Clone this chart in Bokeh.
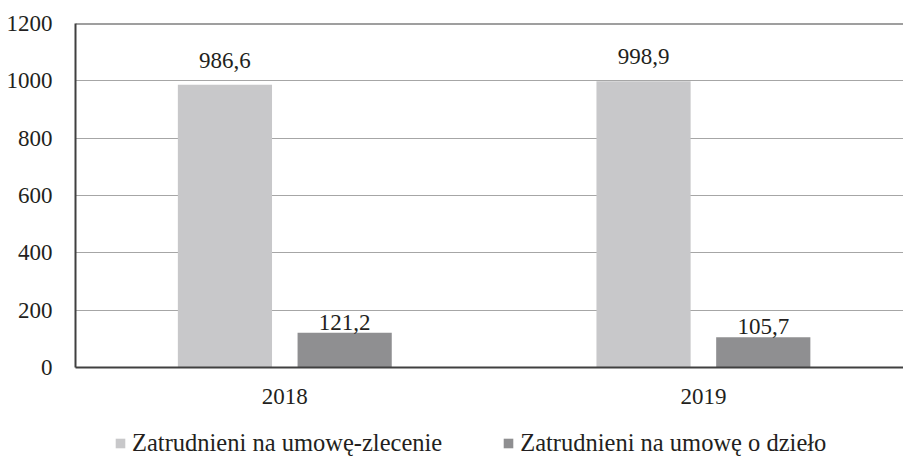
from bokeh.plotting import figure
from bokeh.layouts import column
from bokeh.models import (ColumnDataSource, Range1d, FixedTicker, LabelSet, Legend,
                          LegendItem, Span)
from bokeh.embed import file_html
from bokeh.resources import INLINE

# ---- data ----
years = ["2018", "2019"]
zlecenie = [986.6, 998.9]
dzielo = [121.2, 105.7]
series_names = ["Zatrudnieni na umowę-zlecenie", "Zatrudnieni na umowę o dzieło"]
y_ticks = [0, 200, 400, 600, 800, 1000, 1200]

# ---- style ----
FONT = "Liberation Serif"
FS = "23px"
FS_LEG = "24.5px"
TXT = "#231f20"
C_LIGHT = "#c8c8ca"
C_DARK = "#8f8f91"
BAR_W = 0.225
OFF = 0.143

xpos = list(range(len(years)))
src = ColumnDataSource(dict(
    x1=[i - OFF for i in xpos], x2=[i + OFF for i in xpos],
    v1=zlecenie, v2=dzielo,
    t1=[f"{v:.1f}".replace(".", ",") for v in zlecenie],
    t2=[f"{v:.1f}".replace(".", ",") for v in dzielo],
))

W = 903
p = figure(width=W, height=415, output_backend="svg", toolbar_location=None,
           x_range=Range1d(-0.5, 1.478), y_range=Range1d(0, 1200),
           min_border_left=75, min_border_right=0, min_border_top=23, min_border_bottom=48)
p.outline_line_color = None
p.border_fill_color = "white"

r1 = p.vbar(x="x1", top="v1", width=BAR_W, source=src, fill_color=C_LIGHT, line_color=None)
r2 = p.vbar(x="x2", top="v2", width=BAR_W, source=src, fill_color=C_DARK, line_color=None)

p.add_layout(LabelSet(x="x1", y="v1", text="t1", source=src, y_offset=17,
                      text_align="center", text_baseline="alphabetic",
                      text_font=FONT, text_font_size=FS, text_color=TXT))
p.add_layout(LabelSet(x="x2", y="v2", text="t2", source=src, y_offset=3,
                      text_align="center", text_baseline="alphabetic",
                      text_font=FONT, text_font_size=FS, text_color=TXT))

p.add_layout(Span(location=1200, dimension="width", line_color="#404040", line_width=2))

# axes
p.yaxis.ticker = FixedTicker(ticks=y_ticks)
p.xaxis.ticker = FixedTicker(ticks=xpos)
p.xaxis.major_label_overrides = {i: y for i, y in zip(xpos, years)}
for ax in (p.xaxis, p.yaxis):
    ax.axis_line_color = "#404040"
    ax.axis_line_width = 2
    ax.major_tick_line_color = None
    ax.minor_tick_line_color = None
    ax.major_tick_out = 0
    ax.major_tick_in = 0
    ax.major_label_text_font = FONT
    ax.major_label_text_font_size = FS
    ax.major_label_text_color = TXT
p.yaxis.major_label_standoff = 23
p.xaxis.major_label_standoff = 21

p.xgrid.grid_line_color = None
p.ygrid.grid_line_color = "#a6a6a6"
p.ygrid.grid_line_width = 1

# ---- legend strip (frame aligned with the chart's frame) ----
lg = figure(width=W, height=42, output_backend="svg", toolbar_location=None,
            x_range=Range1d(0, 1), y_range=Range1d(0, 1),
            x_axis_type=None, y_axis_type=None,
            min_border_left=0, min_border_right=0, min_border_top=0, min_border_bottom=0)
lg.outline_line_color = None
lg.xgrid.visible = False
lg.ygrid.visible = False
# off-range proxies carrying the series colours for the legend swatches
d1 = lg.vbar(x=[10], top=[1], width=0.1, fill_color=C_LIGHT, line_color=None)
d2 = lg.vbar(x=[10], top=[1], width=0.1, fill_color=C_DARK, line_color=None)
legend = Legend(items=[LegendItem(label=series_names[0], renderers=[d1]),
                       LegendItem(label=series_names[1], renderers=[d2])],
                orientation="horizontal", location=(39, 0),
                glyph_width=12, glyph_height=12, label_standoff=6, spacing=60,
                padding=0, margin=0, border_line_color=None,
                background_fill_alpha=0, border_line_alpha=0,
                label_text_font=FONT, label_text_font_size=FS_LEG, label_text_color=TXT)
lg.add_layout(legend, "center")

open("out.html", "w").write(file_html(column(p, lg, spacing=0), INLINE))
